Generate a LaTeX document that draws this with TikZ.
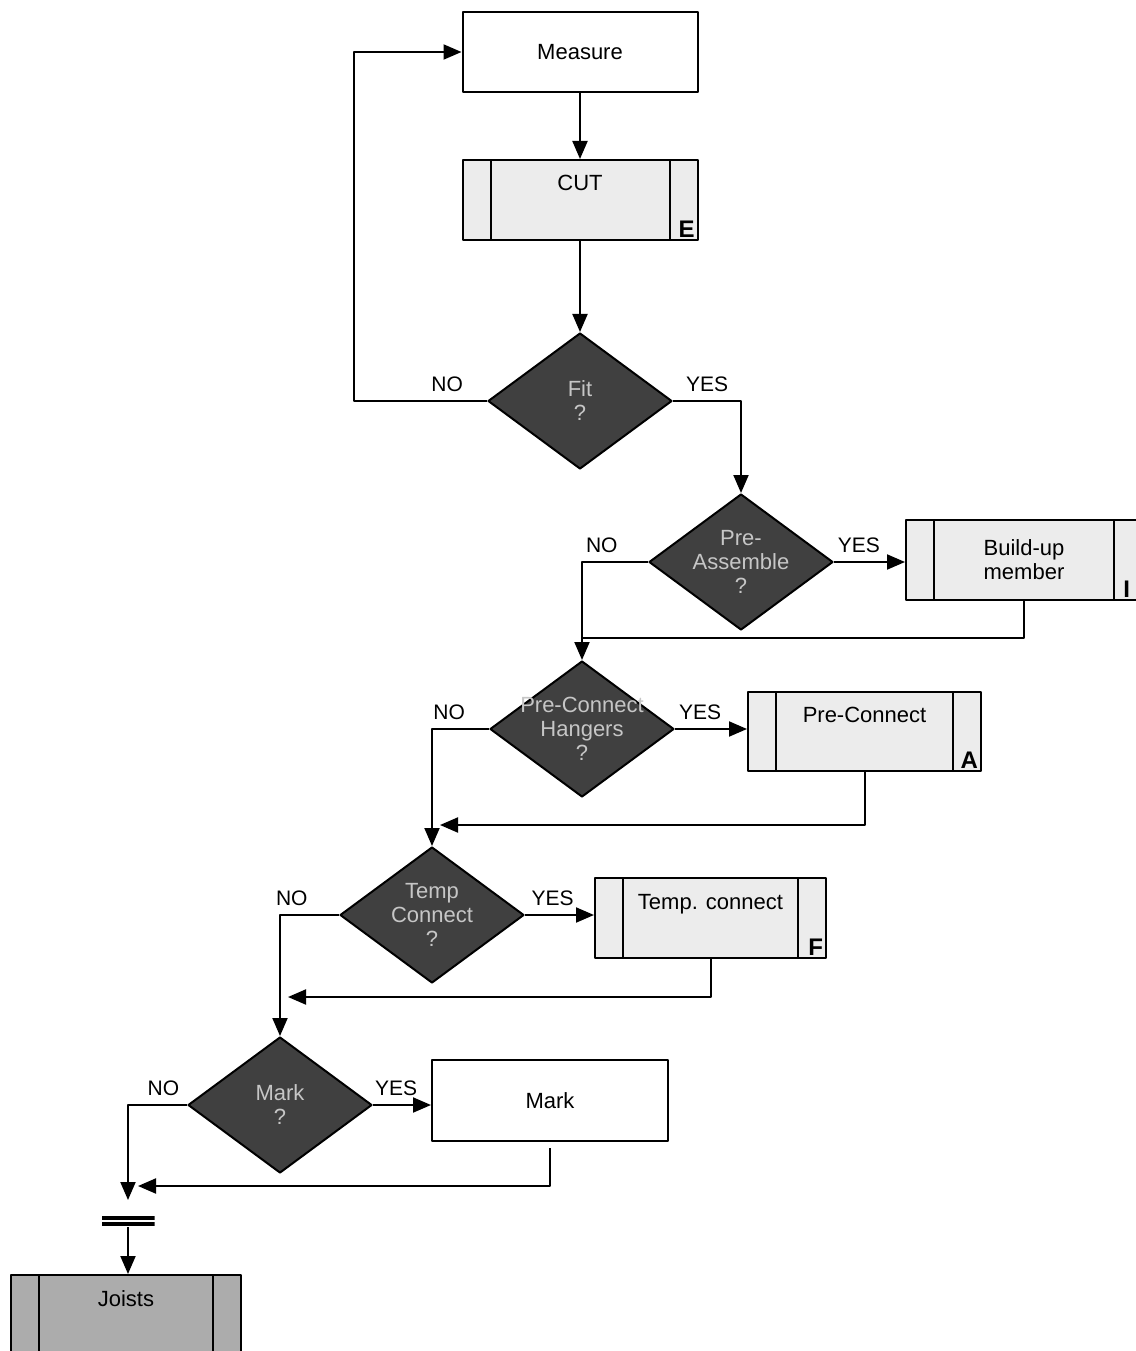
\documentclass[tikz,border=0pt]{standalone}
\usepackage{fontspec}
\setmainfont{Liberation Sans}
\usetikzlibrary{shapes.geometric,arrows.meta}
\begin{document}
\begin{tikzpicture}[x=1pt, y=-1pt, line join=round, line width=2pt, font=\fontsize{22}{24}\selectfont, >={Triangle[length=18pt,width=15pt]},
	plainbox/.style={draw, minimum width=235pt, minimum height=80pt, inner sep=0pt},
	procbox/.style={plainbox, fill=gray!15, path picture={
		\draw ([xshift=28pt]path picture bounding box.north west) -- ([xshift=28pt]path picture bounding box.south west);
		\draw ([xshift=-28pt]path picture bounding box.north east) -- ([xshift=-28pt]path picture bounding box.south east);}},
	toptext/.style={text height=16pt, text depth=34pt},
	decision/.style={diamond, draw, fill=black!75, minimum width=184pt, minimum height=136pt, inner sep=0pt},
	qtext/.style={align=center, text=gray!45},
	yn/.style={above=6pt, font=\fontsize{21}{24}\selectfont, inner sep=2pt},
	tag/.style={font=\fontsize{24}{26}\selectfont\bfseries, inner sep=3pt, anchor=south east},
	syncbar/.style={minimum width=53pt, minimum height=10pt, inner sep=0pt, path picture={
		\fill (path picture bounding box.north west) rectangle ([yshift=-4pt]path picture bounding box.north east);
		\fill ([yshift=4pt]path picture bounding box.south west) rectangle (path picture bounding box.south east);}}]
	\useasboundingbox (0,0) rectangle (1135,1351);
	\node[plainbox] (measure) at (580,52) {Measure};
	\node[procbox, toptext] (cut) at (580,200) {CUT};
	\node[tag] (tagE) at (cut.south east) {E};
	\node[decision, label={[qtext]center:Fit\\?}] (fit) at (580,401) {};
	\node[decision, label={[qtext]center:Pre-\\Assemble\\?}] (preasm) at (741,562) {};
	\node[procbox, minimum width=236pt, align=center] (build) at (1024,560) {Build-up\\member};
	\node[tag] (tagI) at ([xshift=-9pt]build.south east) {I};
	\node[decision, label={[qtext]center:Pre-Connect\\Hangers\\?}] (prehang) at (582,729) {};
	\node[procbox, toptext, minimum width=233pt, minimum height=79pt] (pconn) at (864.5,731.5) {Pre-Connect};
	\node[tag] (tagA) at (pconn.south east) {A};
	\node[decision, label={[qtext]center:Temp\\Connect\\?}] (temp) at (432,915) {};
	\node[procbox, toptext, minimum width=231pt] (tconn) at (710.5,918) {Temp. connect};
	\node[tag] (tagF) at (tconn.south east) {F};
	\node[decision, label={[qtext]center:Mark\\?}] (markq) at (280,1105) {};
	\node[plainbox, minimum width=236pt, minimum height=81pt] (mark) at (550,1100.5) {Mark};
	\node[syncbar] (sync) at (128,1221) {};
	\node[procbox, toptext, fill=gray!65, minimum width=230pt] (joists) at (126,1315) {Joists};
	\coordinate (join1) at (582,638);
	\coordinate (join2) at (440,825);
	\coordinate (join3) at (288,997);
	\coordinate (join4) at (128,1200);
	\coordinate (join5) at (138,1186);
	\draw[->] (measure) -- (cut);
	\draw[->] (cut) -- (fit);
	\draw[->] (fit.west) -- node[yn, pos=0.3] (nofit) {NO} ++(-133,0) |- (measure.west);
	\draw[->] (fit.east) -| node[yn, pos=0.25] (yesfit) {YES} (preasm.north);
	\draw[->] (preasm.west) -| node[yn, pos=0.35] (nopre) {NO} (prehang.north);
	\draw[->] (preasm.east) -- node[yn, pos=0.35] (yespre) {YES} (preasm.east -| build.west);
	\draw (build.south) |- (join1);
	\draw[->] (prehang.west) -| node[yn, pos=0.35] (nohang) {NO} (temp.north);
	\draw[->] (prehang.east) -- node[yn, pos=0.35] (yeshang) {YES} (prehang.east -| pconn.west);
	\draw[->] (pconn.south) |- (join2);
	\draw[->] (temp.west) -| node[yn, pos=0.4] (notemp) {NO} (markq.north);
	\draw[->] (temp.east) -- node[yn, pos=0.4] (yestemp) {YES} (temp.east -| tconn.west);
	\draw[->] (tconn.south) |- (join3);
	\draw[->] (markq.west) -| node[yn, pos=0.2] (nomark) {NO} (join4);
	\draw[->] (markq.east) -- node[yn, pos=0.4] (yesmark) {YES} (markq.east -| mark.west);
	\draw[->] ([yshift=-6pt]mark.south) |- (join5);
	\draw[->] (sync.south) -- (sync.south |- joists.north);
\end{tikzpicture}
\end{document}
